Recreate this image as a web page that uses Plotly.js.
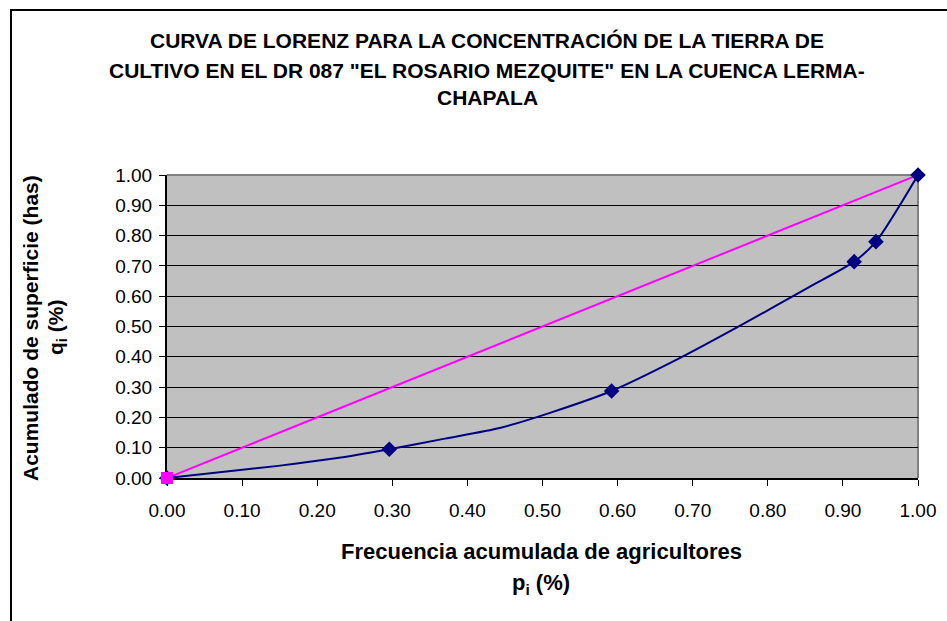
<!DOCTYPE html>
<html>
<head>
<meta charset="utf-8">
<script src="https://cdn.plot.ly/plotly-3.0.1.min.js"></script>
<style>
  html, body { margin: 0; padding: 0; background: #ffffff; overflow: hidden; }
  #frame { position: absolute; left: 10px; top: 9px; width: 1000px; height: 700px;
           border: 2px solid #000000; box-sizing: border-box; }
  #chart { position: absolute; left: 0; top: 0; width: 947px; height: 621px; }
</style>
</head>
<body>
<div id="frame"></div>
<div id="chart"></div>
<script>
// Lorenz curve: cumulative share of farmers (p) vs cumulative irrigated surface (q)
const pCurve = [0, 0.148, 0.222, 0.296, 0.37, 0.443, 0.51, 0.592, 0.68, 0.765, 0.855, 0.915, 0.944, 1.0];
const qCurve = [0, 0.040, 0.064, 0.095, 0.13, 0.165, 0.215, 0.287, 0.392, 0.505, 0.630, 0.714, 0.78, 1.0];

// Points marked with diamonds
const pMarked = [0, 0.296, 0.592, 0.915, 0.944, 1.0];
const qMarked = [0, 0.095, 0.287, 0.714, 0.78, 1.0];

// Line of perfect equality
const pEqual = [0, 1];
const qEqual = [0, 1];

// Tick values and labels
const tickVals = [0, 0.1, 0.2, 0.3, 0.4, 0.5, 0.6, 0.7, 0.8, 0.9, 1.0];
const tickText = tickVals.map(v => v.toFixed(2));

const titleLines = [
  'CURVA DE LORENZ PARA LA CONCENTRACIÓN DE LA TIERRA DE',
  'CULTIVO EN EL DR 087 "EL ROSARIO MEZQUITE" EN LA CUENCA LERMA-',
  'CHAPALA'
];
const xTitleLines = ['Frecuencia acumulada de agricultores', 'p<sub>i</sub> (%)'];
const yTitleLines = ['Acumulado de superficie (has)', 'q<sub>i</sub> (%)'];

const FONT = 'Arial, "Liberation Sans", sans-serif';

const traces = [
  { x: pEqual, y: qEqual, type: 'scatter', mode: 'lines',
    line: { color: '#FF00FF', width: 2 }, hoverinfo: 'skip', cliponaxis: false },
  { x: pCurve, y: qCurve, type: 'scatter', mode: 'lines',
    line: { color: '#000080', width: 2, shape: 'spline', smoothing: 0.7 }, cliponaxis: false },
  { x: pMarked, y: qMarked, type: 'scatter', mode: 'markers',
    marker: { symbol: 'diamond', size: 12, color: '#000080' }, cliponaxis: false },
  { x: [pEqual[0]], y: [qEqual[0]], type: 'scatter', mode: 'markers',
    marker: { symbol: 'square', size: 12, color: '#FF00FF' }, cliponaxis: false }
];

const annotations = [];
const titleY = [40, 70, 97];
titleLines.forEach((t, i) => annotations.push({
  text: '<b>' + t + '</b>', xref: 'paper', yref: 'paper',
  x: (487 - 167) / 751, y: 1 + (175 - titleY[i]) / 303,
  xanchor: 'center', yanchor: 'middle', showarrow: false,
  font: { family: FONT, size: 21, color: '#000' }
}));
const xtY = [551, 584];
xTitleLines.forEach((t, i) => annotations.push({
  text: '<b>' + t + '</b>', xref: 'paper', yref: 'paper',
  x: (541 - 167) / 751, y: -(xtY[i] - 478) / 303,
  xanchor: 'center', yanchor: 'middle', showarrow: false,
  font: { family: FONT, size: 22, color: '#000' }
}));
const ytX = [30, 57];
yTitleLines.forEach((t, i) => annotations.push({
  text: '<b>' + t + '</b>', xref: 'paper', yref: 'paper',
  x: -(167 - ytX[i]) / 751, y: (478 - 328) / 303,
  xanchor: 'center', yanchor: 'middle', textangle: -90, showarrow: false,
  font: { family: FONT, size: 21, color: '#000' }
}));

const axisCommon = {
  range: [0, 1], tickvals: tickVals, ticktext: tickText,
  ticks: 'outside', ticklen: 6, tickwidth: 1, tickcolor: '#000',
  showline: true, linecolor: '#000', linewidth: 2, layer: 'below traces',
  tickfont: { family: FONT, size: 19, color: '#000' },
  zeroline: false, fixedrange: true
};

const layout = {
  width: 947, height: 621,
  margin: { l: 167, r: 29, t: 175, b: 143 },
  paper_bgcolor: 'rgba(0,0,0,0)',
  plot_bgcolor: '#C0C0C0',
  showlegend: false,
  xaxis: Object.assign({}, axisCommon, { showgrid: false, ticklabelstandoff: 8 }),
  yaxis: Object.assign({}, axisCommon, { showgrid: true, gridcolor: '#000', gridwidth: 1, ticklabelstandoff: 3 }),
  shapes: [
    { type: 'line', xref: 'paper', yref: 'paper', x0: 0, x1: 1, y0: 1, y1: 1,
      line: { color: '#808080', width: 2 }, layer: 'between' },
    { type: 'line', xref: 'paper', yref: 'paper', x0: 1, x1: 1, y0: 0, y1: 1,
      line: { color: '#808080', width: 2 }, layer: 'between' }
  ],
  annotations: annotations
};

Plotly.newPlot('chart', traces, layout, { displayModeBar: false, staticPlot: true });
</script>
</body>
</html>
